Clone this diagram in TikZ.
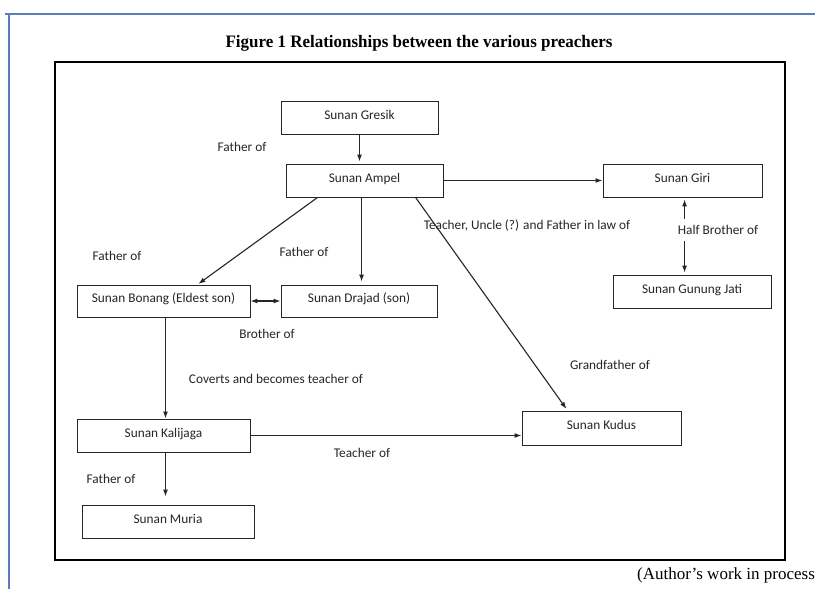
\documentclass[tikz,border=0pt]{standalone}
\usepackage{fontspec}
\setmainfont{Carlito}
\newfontfamily\titlefont{Liberation Serif}
\usetikzlibrary{arrows.meta,calc}
\definecolor{frameblue}{HTML}{5B7DB8}
\definecolor{ink}{HTML}{262626}
\tikzset{
  person/.style={draw=ink, line width=0.9pt, rectangle, inner sep=0pt, text=ink,
    text height=9.5pt, text depth=6pt,
    font=\fontsize{13.3}{15}\selectfont},
  rel/.style={text=ink, inner sep=1pt, font=\fontsize{13.3}{15}\selectfont},
  conn/.style={draw=ink, line width=1.1pt, -{Latex[length=7pt,width=5pt]}},
  bconn/.style={draw=ink, line width=1.1pt, {Latex[length=7pt,width=5pt]}-{Latex[length=7pt,width=5pt]}}
}
\begin{document}
\begin{tikzpicture}[x=1pt,y=-1pt]
\useasboundingbox (0,0) rectangle (815,589);
\fill[white] (0,0) rectangle (815,589);
% page border
\draw[frameblue, line width=1.5pt] (5,14) -- (815,14);
\draw[frameblue, line width=1.5pt] (9,14) -- (9,589);
% title
\node[anchor=center, font=\titlefont\bfseries\fontsize{17.5}{20}\selectfont] (title) at (419,43)
  {\scalebox{0.97}[1]{Figure 1 Relationships between the various preachers}};
% outer frame
\draw[black, line width=2pt] (55,62) rectangle (785,560);
% people
\node[person, minimum width=157pt, minimum height=33pt] (gresik) at (359.5,117.5) {Sunan Gresik};
\node[person, minimum width=157pt, minimum height=33pt] (ampel) at (364.5,180.5) {Sunan Ampel};
\node[person, minimum width=159pt, minimum height=33pt] (giri) at (682.5,180.5) {Sunan Giri};
\node[person, minimum width=158pt, minimum height=33pt] (gunung) at (692,291.5) {Sunan Gunung Jati};
\node[person, minimum width=173pt, minimum height=32pt] (bonang) at (163.5,301) {Sunan Bonang (Eldest son)};
\node[person, minimum width=156pt, minimum height=32pt] (drajad) at (359,301) {Sunan Drajad (son)};
\node[person, minimum width=173pt, minimum height=33pt] (kalijaga) at (163.5,435.5) {Sunan Kalijaga};
\node[person, minimum width=159pt, minimum height=34pt] (kudus) at (601.5,428) {Sunan Kudus};
\node[person, minimum width=172pt, minimum height=33pt] (muria) at (168,521.5) {Sunan Muria};
% connectors
\draw[conn, shorten >=2pt] (gresik.south) -- (ampel.north -| gresik.south);
\draw[conn] (ampel.east) -- (giri.west);
\draw[conn, shorten >=1pt] ([xshift=32pt]ampel.south west) -- ([xshift=121pt]bonang.north west);
\draw[conn, shorten >=3pt] ([xshift=76pt]ampel.south west) -- ([xshift=81pt]drajad.north west);
\draw[conn, shorten >=2pt] ([xshift=130pt]ampel.south west) -- ([xshift=46pt]kudus.north west);
\draw[bconn, shorten <=2pt, shorten >=2pt] ([xshift=82pt]giri.south west) -- ([xshift=72pt]gunung.north west);
\draw[bconn] (bonang.east) -- (drajad.west);
\draw[conn] ([xshift=2pt]bonang.south) -- ([xshift=2pt]bonang.south |- kalijaga.north);
\draw[conn] (kalijaga.east) -- (kalijaga.east -| kudus.west);
\draw[conn, shorten >=8pt] ([xshift=2pt]kalijaga.south) -- ([xshift=2pt]kalijaga.south |- muria.north);
% labels
\node[rel] (l1) at (242,147) {Father of};
\node[rel] (l2) at (527,226) {Teacher, Uncle (?) and Father in law of};
\node[rel, fill=white, inner ysep=6pt] (l3) at (718,230) {Half Brother of};
\node[rel] (l4) at (117,256) {Father of};
\node[rel] (l5) at (304,252) {Father of};
\node[rel] (l6) at (267,334) {Brother of};
\node[rel] (l7) at (276,379) {Coverts and becomes teacher of};
\node[rel] (l8) at (610,365) {Grandfather of};
\node[rel] (l9) at (362,453) {Teacher of};
\node[rel] (l10) at (111,479) {Father of};
% footnote
\node[anchor=west, inner sep=0pt, font=\titlefont\fontsize{17}{20}\selectfont] (note) at (637,575)
  {(Author’s work in process};
\end{tikzpicture}
\end{document}
